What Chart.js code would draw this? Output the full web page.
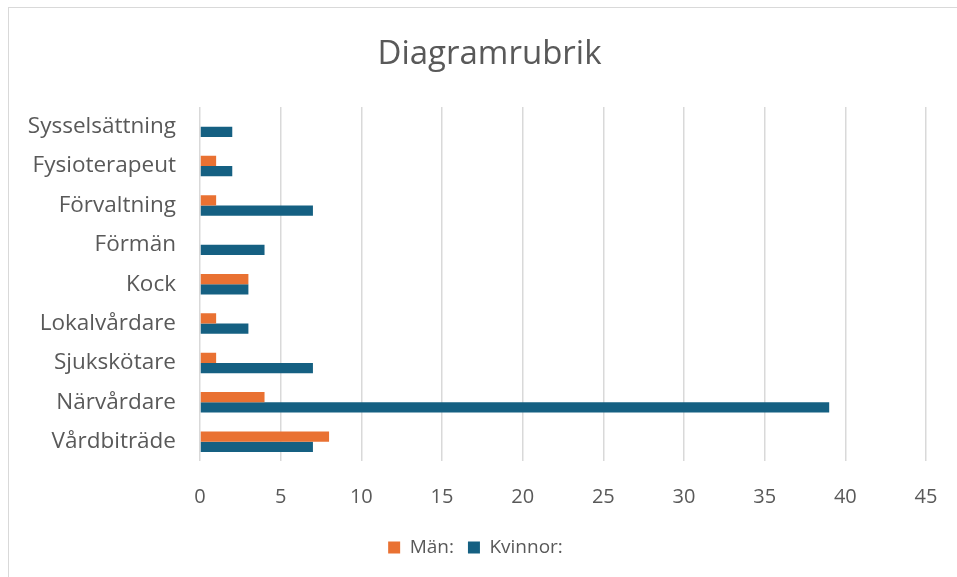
<!DOCTYPE html>
<html>
<head>
<meta charset="utf-8">
<script src="https://cdn.jsdelivr.net/npm/chart.js@4.4.1/dist/chart.umd.min.js"></script>
<style>
  html, body { margin: 0; padding: 0; background: #ffffff; overflow: hidden; width: 957px; height: 577px; }
  #frame { position: absolute; left: 8px; top: 7px; width: 1000px; height: 600px; border: 1.5px solid #d9d9d9; box-sizing: border-box; }
  #wrap { position: absolute; left: 9px; top: 8px; width: 962px; height: 569px; }
</style>
</head>
<body>
<div id="frame"></div>
<div id="wrap"><canvas id="c" width="962" height="569"></canvas></div>
<script>
const categories = ["Sysselsättning", "Fysioterapeut", "Förvaltning", "Förmän", "Kock", "Lokalvårdare", "Sjukskötare", "Närvårdare", "Vårdbiträde"];
const manValues = [0, 1, 1, 0, 3, 1, 1, 4, 8];
const kvinnorValues = [2, 2, 7, 4, 3, 3, 7, 39, 7];
const seriesNames = ["Män:", "Kvinnor:"];
const xTicks = [0, 5, 10, 15, 20, 25, 30, 35, 40, 45];
const titleText = "Diagramrubrik";

const FONT = "'Open Sans', 'Noto Sans', sans-serif";
const GREY = "#595959";

// place title and legend horizontally as in the reference
const boxShift = {
  id: 'boxShift',
  afterLayout(chart) {
    if (chart.titleBlock) { chart.titleBlock.left += 22; chart.titleBlock.right += 22; }
    if (chart.legend) { chart.legend.left += 8; chart.legend.right += 8; }
  }
};

new Chart(document.getElementById('c'), {
  type: 'bar',
  data: {
    labels: categories,
    datasets: [
      { label: seriesNames[0], data: manValues, backgroundColor: '#E97132', borderWidth: 0 },
      { label: seriesNames[1], data: kvinnorValues, backgroundColor: '#156082', borderWidth: 0 }
    ]
  },
  plugins: [boxShift],
  options: {
    indexAxis: 'y',
    responsive: false,
    animation: false,
    devicePixelRatio: 1,
    layout: { padding: { left: 0, right: 45, top: 0, bottom: 10 } },
    datasets: { bar: { categoryPercentage: 0.52, barPercentage: 1.0 } },
    plugins: {
      title: {
        display: true,
        text: titleText,
        color: GREY,
        font: { family: FONT, size: 33, weight: 'normal' },
        padding: { top: 26.9, bottom: 32.5 }
      },
      legend: {
        display: true,
        position: 'bottom',
        labels: {
          color: GREY,
          font: { family: FONT, size: 19 },
          boxWidth: 12,
          boxHeight: 12,
          padding: 14
        }
      },
      tooltip: { enabled: false }
    },
    scales: {
      x: {
        min: xTicks[0],
        max: xTicks[xTicks.length - 1],
        afterBuildTicks: (scale) => { scale.ticks = xTicks.map(v => ({ value: v })); },
        afterFit: (scale) => { scale.height = 62.6; },
        grid: { color: '#d9d9d9', lineWidth: 1.5, drawTicks: false },
        border: { display: false },
        ticks: { color: GREY, font: { family: FONT, size: 20 }, padding: 24, maxRotation: 0 }
      },
      y: {
        afterFit: (scale) => { scale.width = 191; },
        grid: { display: false, drawTicks: false },
        border: { display: false },
        ticks: { color: GREY, font: { family: FONT, size: 22.5 }, padding: 24 }
      }
    }
  }
});
</script>
</body>
</html>
